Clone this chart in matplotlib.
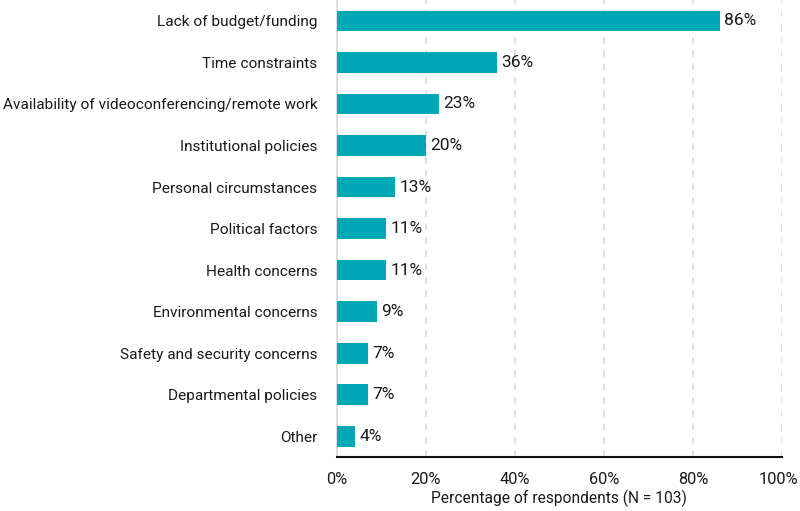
import matplotlib

matplotlib.use("Agg")
import matplotlib.pyplot as plt
from matplotlib.ticker import FuncFormatter
from matplotlib.transforms import ScaledTranslation

categories = [
    "Lack of budget/funding",
    "Time constraints",
    "Availability of videoconferencing/remote work",
    "Institutional policies",
    "Personal circumstances",
    "Political factors",
    "Health concerns",
    "Environmental concerns",
    "Safety and security concerns",
    "Departmental policies",
    "Other",
]
values = [86, 36, 23, 20, 13, 11, 11, 9, 7, 7, 4]
x_ticks = [0, 20, 40, 60, 80, 100]

plt.rcParams["font.family"] = ["Roboto", "DejaVu Sans"]

fig = plt.figure(figsize=(8, 5.11), dpi=100)
ax = fig.add_axes([0.421, 0.1057, 0.5565, 0.894])

y = list(range(len(categories)))
ax.barh(y, values, height=0.5, color="#00a8b5", zorder=3)
for yi, v in zip(y, values):
    ax.text(v + 1.0, yi, f"{v}%", va="center", ha="left", fontsize=12.5, color="#1a1a1a")

ax.set_yticks(y)
ax.set_yticklabels(categories, fontsize=11.1, color="#1a1a1a")
ax.set_ylim(len(categories) - 0.5, -0.5)
ax.set_xlim(0, 100)
ax.set_xticks(x_ticks)
ax.xaxis.set_major_formatter(FuncFormatter(lambda v, _: f"{v:.0f}%"))
ax.tick_params(axis="x", labelsize=11.8, colors="#1a1a1a", length=0, pad=11)
ax.tick_params(axis="y", length=0, pad=14)
ax.set_xlabel("Percentage of respondents (N = 103)", fontsize=11.2, color="#1a1a1a", labelpad=2)

# nudge the "100%" label left a few pixels so it stays on the canvas
fig.canvas.draw()
last = ax.get_xticklabels()[-1]
last.set_transform(last.get_transform() + ScaledTranslation(-4 / 100, 0, fig.dpi_scale_trans))

ax.grid(axis="x", linestyle=(0, (4, 4)), color="#d9d9d9", linewidth=1.2, zorder=0)
for side in ("top", "right"):
    ax.spines[side].set_visible(False)
ax.spines["left"].set_color("#d9d9d9")
ax.spines["left"].set_linewidth(1.2)
ax.spines["bottom"].set_color("#111111")
ax.spines["bottom"].set_linewidth(1.5)
ax.spines["bottom"].set_zorder(4)

fig.savefig("out.png", dpi=100)
plt.close(fig)
